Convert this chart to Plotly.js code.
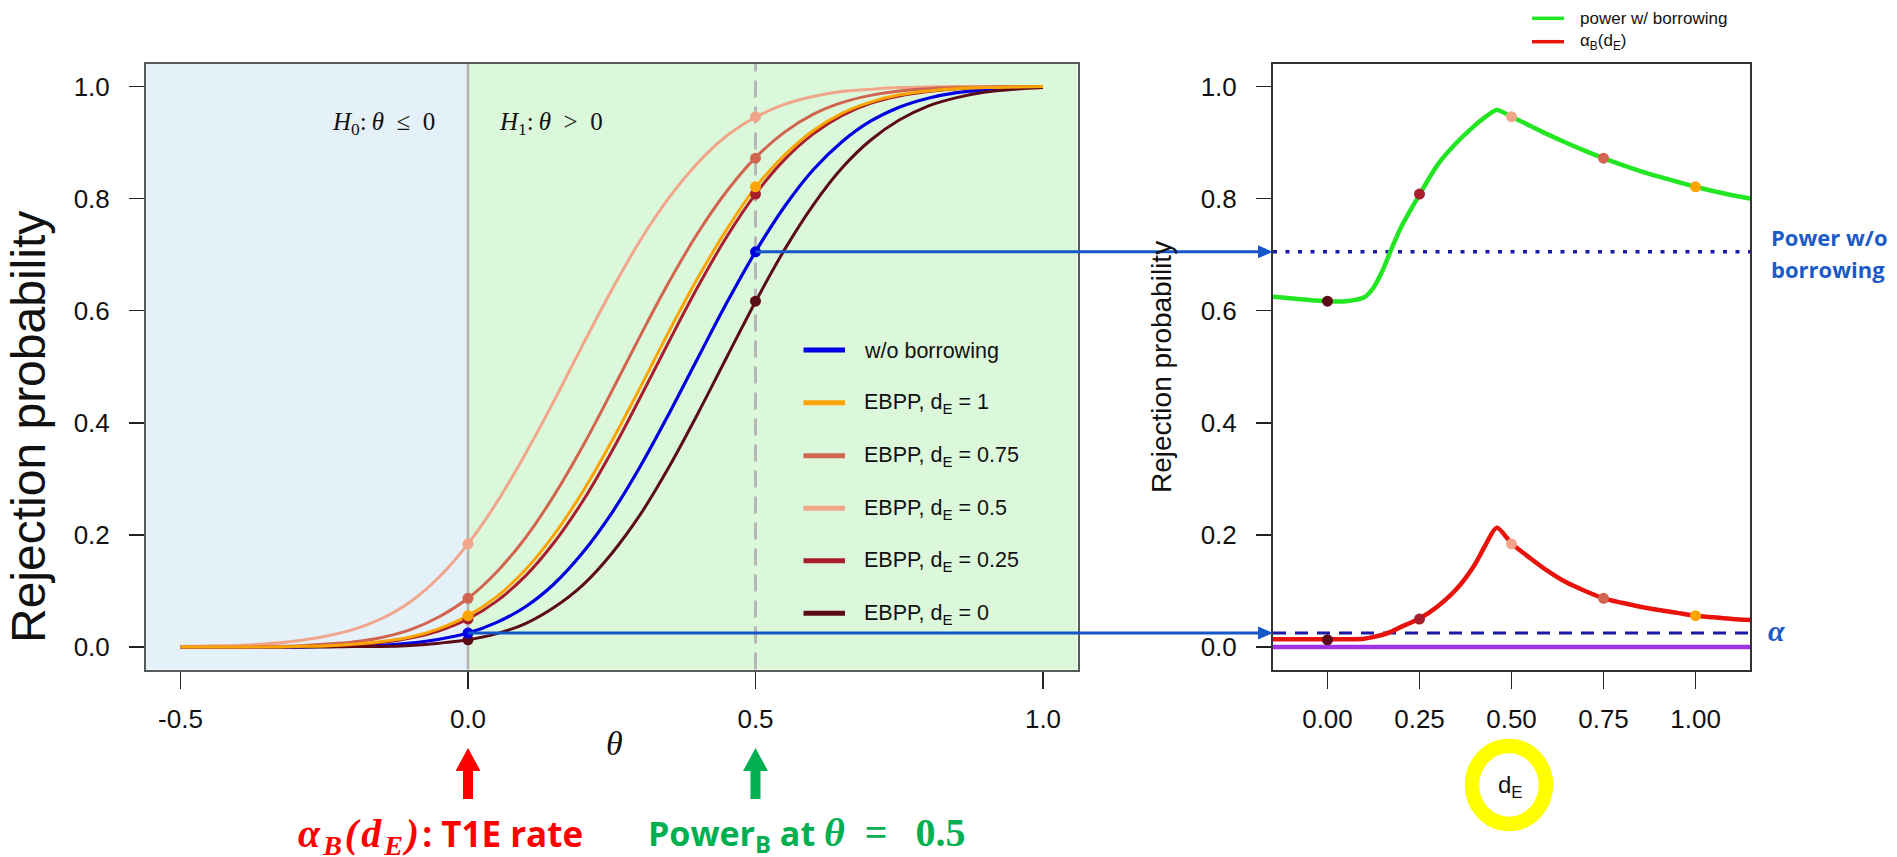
<!DOCTYPE html>
<html><head><meta charset="utf-8">
<script src="https://cdn.plot.ly/plotly-3.0.1.min.js"></script>
<style>html,body{margin:0;padding:0;background:#fff;}#plot{width:1897px;height:857px;}</style>
</head><body><div id="plot"></div>
<script>
// ---------------- data ----------------
const theta = [-0.5,-0.45,-0.4,-0.35,-0.3,-0.25,-0.2,-0.15,-0.1,-0.05,0,0.05,0.1,0.15,0.2,0.25,0.3,0.35,0.4,0.45,0.5,0.55,0.6,0.65,0.7,0.75,0.8,0.85,0.9,0.95,1.0];
const pNoBorrow = [0.000,0.000,0.000,0.000,0.000,0.001,0.002,0.003,0.007,0.014,0.025,0.044,0.072,0.113,0.169,0.239,0.323,0.417,0.516,0.614,0.705,0.785,0.851,0.901,0.938,0.963,0.979,0.989,0.994,0.997,0.999];
const pEB1    = [0.000,0.000,0.000,0.000,0.001,0.002,0.005,0.010,0.018,0.033,0.056,0.090,0.138,0.201,0.278,0.367,0.464,0.564,0.659,0.745,0.820,0.877,0.921,0.952,0.972,0.985,0.992,0.996,0.998,0.999,1.000];
const pEB075  = [0.000,0.000,0.000,0.001,0.002,0.005,0.009,0.017,0.031,0.054,0.087,0.134,0.195,0.271,0.359,0.456,0.556,0.652,0.739,0.813,0.873,0.918,0.950,0.971,0.984,0.992,0.996,0.998,0.999,1.000,1.000];
const pEB05   = [0.001,0.002,0.003,0.006,0.011,0.019,0.031,0.051,0.081,0.125,0.184,0.258,0.345,0.440,0.540,0.637,0.726,0.802,0.864,0.912,0.945,0.968,0.982,0.991,0.995,0.998,0.999,1.000,1.000,1.000,1.000];
const pEB025  = [0.000,0.000,0.000,0.000,0.001,0.002,0.004,0.008,0.016,0.029,0.050,0.082,0.127,0.187,0.261,0.349,0.446,0.546,0.643,0.732,0.808,0.869,0.915,0.948,0.970,0.983,0.991,0.996,0.998,0.999,1.000];
const pEB0    = [0.000,0.000,0.000,0.000,0.000,0.000,0.001,0.001,0.003,0.007,0.013,0.024,0.042,0.071,0.111,0.167,0.237,0.322,0.417,0.517,0.616,0.708,0.788,0.854,0.904,0.940,0.965,0.980,0.990,0.995,0.998];

const dE     = [-0.15,-0.1,-0.05,0,0.05,0.1,0.125,0.15,0.175,0.2,0.25,0.3,0.35,0.4,0.43,0.46,0.5,0.55,0.6,0.65,0.7,0.75,0.8,0.85,0.9,0.95,1.0,1.05,1.1,1.15];
const powerB = [0.625,0.622,0.619,0.617,0.617,0.624,0.641,0.672,0.712,0.749,0.807,0.861,0.899,0.930,0.946,0.958,0.946,0.930,0.914,0.899,0.885,0.872,0.860,0.849,0.839,0.830,0.821,0.813,0.806,0.800];
const alphaB = [0.014,0.014,0.014,0.014,0.014,0.015,0.018,0.022,0.028,0.036,0.051,0.073,0.103,0.147,0.183,0.213,0.185,0.159,0.135,0.115,0.100,0.087,0.079,0.072,0.066,0.061,0.056,0.053,0.050,0.048];

const dEPoints    = [0, 0.25, 0.5, 0.75, 1];
const alphaPoints = [0.013, 0.050, 0.184, 0.087, 0.056];   // EBPP at theta = 0
const powerPoints = [0.617, 0.808, 0.946, 0.872, 0.821];   // EBPP at theta = 0.5
const alphaNominal = 0.025, powerNoBorrow = 0.705;
const pointTheta = [0, 0.5];

const thetaTickVals = [-0.5, 0, 0.5, 1];
const thetaTickText = ['-0.5', '0.0', '0.5', '1.0'];
const dETickVals = [0, 0.25, 0.5, 0.75, 1];
const dETickText = ['0.00', '0.25', '0.50', '0.75', '1.00'];
const probTickVals = [0, 0.2, 0.4, 0.6, 0.8, 1.0];
const probTickText = ['0.0', '0.2', '0.4', '0.6', '0.8', '1.0'];

const legendLabels = ['w/o borrowing','EBPP, d<sub>E</sub> = 1','EBPP, d<sub>E</sub> = 0.75','EBPP, d<sub>E</sub> = 0.5','EBPP, d<sub>E</sub> = 0.25','EBPP, d<sub>E</sub> = 0'];

// ---------------- styles ----------------
const colNo = '#0000e2';
const colEB = ['#5b0a18', '#a71e2d', '#f1a68b', '#d1654f', '#fba503']; // dE = 0, .25, .5, .75, 1
const ebCurves = [pEB0, pEB025, pEB05, pEB075, pEB1];
const W = 1897, H = 857;
const L = {x0:146, x1:1077.5, y0:64, y1:669.5};
const R = {x0:1273, x1:1750, y0:64, y1:669.5};
const rTheta = [-0.56, 1.06], rProb = [-0.04, 1.04], rDE = [-0.148, 1.148];
const PX = x => x / W, PY = y => 1 - y / H;
const xL = v => L.x0 + (v - rTheta[0]) / (rTheta[1] - rTheta[0]) * (L.x1 - L.x0);
const yP = v => L.y1 - (v - rProb[0]) / (rProb[1] - rProb[0]) * (L.y1 - L.y0);
const SANS = 'Liberation Sans, Arial, sans-serif';
const SERIF = 'Liberation Serif, Times New Roman, serif';

const traces = [];
traces.push({x: theta, y: pNoBorrow, mode:'lines', line:{color:colNo, width:3.2, shape:'spline'}, xaxis:'x', yaxis:'y', hoverinfo:'skip'});
[0,1,2,3,4].forEach(i => {
  traces.push({x: theta, y: ebCurves[i], mode:'lines', line:{color:colEB[i], width:3, shape:'spline'}, xaxis:'x', yaxis:'y', hoverinfo:'skip'});
});
[0,1,2,3,4].forEach(i => {
  traces.push({x: pointTheta, y: [alphaPoints[i], powerPoints[i]], mode:'markers', marker:{color:colEB[i], size:11}, xaxis:'x', yaxis:'y', hoverinfo:'skip'});
});
traces.push({x: pointTheta, y: [alphaNominal, powerNoBorrow], mode:'markers', marker:{color:colNo, size:11}, xaxis:'x', yaxis:'y', hoverinfo:'skip'});
traces.push({x: dE, y: powerB, mode:'lines', line:{color:'#22e622', width:4.5, shape:'spline', smoothing:0.8}, xaxis:'x2', yaxis:'y2', hoverinfo:'skip'});
traces.push({x: dE, y: alphaB, mode:'lines', line:{color:'#e8140c', width:4.5, shape:'spline', smoothing:0.8}, xaxis:'x2', yaxis:'y2', hoverinfo:'skip'});
traces.push({x: dEPoints, y: powerPoints, mode:'markers', marker:{color:colEB, size:11}, xaxis:'x2', yaxis:'y2', hoverinfo:'skip'});
traces.push({x: dEPoints, y: alphaPoints, mode:'markers', marker:{color:colEB, size:11}, xaxis:'x2', yaxis:'y2', hoverinfo:'skip'});

const axCommon = {showgrid:false, zeroline:false, ticks:'outside', tickwidth:1.6, tickcolor:'#222', showline:true, mirror:true, linewidth:2, tickfont:{family:SANS, size:26, color:'#111'}, fixedrange:true};

const shapes = [
  {type:'rect', xref:'x', yref:'y domain', x0:rTheta[0], x1:0, y0:0, y1:1, fillcolor:'#e4f1f8', line:{width:0}, layer:'below'},
  {type:'rect', xref:'x', yref:'y domain', x0:0, x1:rTheta[1], y0:0, y1:1, fillcolor:'#dcf8da', line:{width:0}, layer:'below'},
  {type:'line', xref:'x', yref:'y domain', x0:0, x1:0, y0:0, y1:1, line:{color:'#b4b4b4', width:2.5}, layer:'below'},
  {type:'line', xref:'x', yref:'y domain', x0:0.5, x1:0.5, y0:0, y1:1, line:{color:'#b8b8b8', width:3, dash:'17px,9px'}, layer:'below'},
  {type:'line', xref:'x2 domain', yref:'y2', x0:0, x1:1, y0:0, y1:0, line:{color:'#a133e6', width:4.5}, layer:'below'},
  {type:'line', xref:'x2 domain', yref:'y2', x0:0, x1:1, y0:alphaNominal, y1:alphaNominal, line:{color:'#1a1aa6', width:3, dash:'13px,9px'}, layer:'below'},
  {type:'line', xref:'x2 domain', yref:'y2', x0:0, x1:1, y0:powerNoBorrow, y1:powerNoBorrow, line:{color:'#1a1aa6', width:3.5, dash:'4px,8.5px'}, layer:'below'}
];

function note(x, y, text, font, extra) {
  return Object.assign({xref:'paper', yref:'paper', x:PX(x), y:PY(y), xanchor:'center', yanchor:'middle', showarrow:false, text:text, font:font}, extra || {});
}

const legRows = [350, 402.7, 455.7, 508.3, 560.7, 613.3];
const legCols = [colNo, colEB[4], colEB[3], colEB[2], colEB[1], colEB[0]];
const annotations = [];
legRows.forEach((yy, i) => {
  shapes.push({type:'line', xref:'paper', yref:'paper', x0:PX(803.5), x1:PX(845), y0:PY(yy), y1:PY(yy), line:{color:legCols[i], width:5}});
  annotations.push(note(862, yy + 1, legendLabels[i], {family:SANS, size:21.5, color:'#111'}, {xanchor:'left'}));
});
const rLeg = [{y:18.3, c:'#22e622', t:'power w/ borrowing'}, {y:41.7, c:'#e8140c', t:'α<sub>B</sub>(d<sub>E</sub>)'}];
rLeg.forEach(o => {
  shapes.push({type:'line', xref:'paper', yref:'paper', x0:PX(1532), x1:PX(1564), y0:PY(o.y), y1:PY(o.y), line:{color:o.c, width:3.5}});
  annotations.push(note(1578, o.y, o.t, {family:SANS, size:17, color:'#111'}, {xanchor:'left'}));
});

const arrowCol = '#1557c8';
function hArrow(x0, y, x1) {
  shapes.push({type:'line', xref:'paper', yref:'paper', x0:PX(x0), x1:PX(x1 - 13), y0:PY(y), y1:PY(y), line:{color:arrowCol, width:3}});
  shapes.push({type:'path', xref:'paper', yref:'paper', path:`M${PX(x1-15)},${PY(y-6.5)} L${PX(x1)},${PY(y)} L${PX(x1-15)},${PY(y+6.5)} Z`, fillcolor:arrowCol, line:{width:0}});
}
hArrow(xL(0.5), yP(powerNoBorrow), R.x0);
hArrow(xL(0), yP(alphaNominal), R.x0);

function vArrow(x, col) {
  const tip = 748, tail = 799, hl = 23, hw = 12.5, sw = 5;
  shapes.push({type:'path', xref:'paper', yref:'paper',
    path:`M${PX(x-sw)},${PY(tail)} L${PX(x-sw)},${PY(tip+hl)} L${PX(x-hw)},${PY(tip+hl)} L${PX(x)},${PY(tip)} L${PX(x+hw)},${PY(tip+hl)} L${PX(x+sw)},${PY(tip+hl)} L${PX(x+sw)},${PY(tail)} Z`,
    fillcolor:col, line:{width:0}});
}
vArrow(xL(0), '#ff0000');
vArrow(xL(0.5), '#00b050');

shapes.push({type:'circle', xref:'paper', yref:'paper', x0:PX(1509-37), x1:PX(1509+37), y0:PY(785+39), y1:PY(785-39), line:{color:'#ffff00', width:14.5}});

annotations.push(
  note(28, 427, 'Rejection probability', {family:SANS, size:48, color:'#111'}, {textangle:-90}),
  note(1161, 367, 'Rejection probability', {family:SANS, size:28, color:'#111'}, {textangle:-90}),
  note(614.5, 743, '<i>θ</i>', {family:SERIF, size:34, color:'#111'}),
  note(1510, 786, 'd<sub>E</sub>', {family:SANS, size:24, color:'#111'}),
  note(330, 124, '<i>H</i><sub>0</sub>:\u2009<i>θ</i>\u2002≤\u20020', {family:SERIF, size:25, color:'#111'}, {xanchor:'left'}),
  note(497, 124, '<i>H</i><sub>1</sub>:\u2009<i>θ</i>\u2002>\u20020', {family:SERIF, size:25, color:'#111'}, {xanchor:'left'}),
  note(1769, 237, '<b>Power w/o</b>', {family:'Open Sans', size:22, color:'#1c5ac8'}, {xanchor:'left'}),
  note(1769, 268.5, '<b>borrowing</b>', {family:'Open Sans', size:22, color:'#1c5ac8'}, {xanchor:'left'}),
  note(1776, 630, '<b><i>α</i></b>', {family:SERIF, size:30, color:'#1c5ac8'}),
  note(296, 835, '<span style="font-family:Liberation Serif;font-size:40px;letter-spacing:3px"><b><i>α<sub>B</sub>(d<sub>E</sub>)</i></b></span><b>: T1E rate</b>', {family:'Open Sans', size:35, color:'#ff0000'}, {xanchor:'left'}),
  note(646, 835, '<b>Power<sub>B</sub> at </b><span style="font-family:Liberation Serif;font-size:40px"><b><i>θ</i>\u2002=\u2002\u20090.5</b></span>', {family:'Open Sans', size:34, color:'#00b050'}, {xanchor:'left'})
);

const layout = {
  width: W, height: H, margin:{l:0, r:0, t:0, b:0}, paper_bgcolor:'#ffffff', plot_bgcolor:'rgba(0,0,0,0)', showlegend:false,
  xaxis: Object.assign({}, axCommon, {domain:[PX(L.x0), PX(L.x1)], range:rTheta, anchor:'y', tickvals:thetaTickVals, ticktext:thetaTickText, ticklen:17, linecolor:'#565b5b', ticklabelstandoff:8}),
  yaxis: Object.assign({}, axCommon, {domain:[PY(L.y1), PY(L.y0)], range:rProb, anchor:'x', tickvals:probTickVals, ticktext:probTickText, ticklen:15, linecolor:'#565b5b', ticklabelstandoff:14}),
  xaxis2: Object.assign({}, axCommon, {domain:[PX(R.x0), PX(R.x1)], range:rDE, anchor:'y2', tickvals:dETickVals, ticktext:dETickText, ticklen:17, linecolor:'#333333', ticklabelstandoff:8}),
  yaxis2: Object.assign({}, axCommon, {domain:[PY(R.y1), PY(R.y0)], range:rProb, anchor:'x2', tickvals:probTickVals, ticktext:probTickText, ticklen:15, linecolor:'#333333', ticklabelstandoff:14}),
  shapes: shapes, annotations: annotations
};
Plotly.newPlot('plot', traces, layout, {displayModeBar:false, staticPlot:true});
</script></body></html>
